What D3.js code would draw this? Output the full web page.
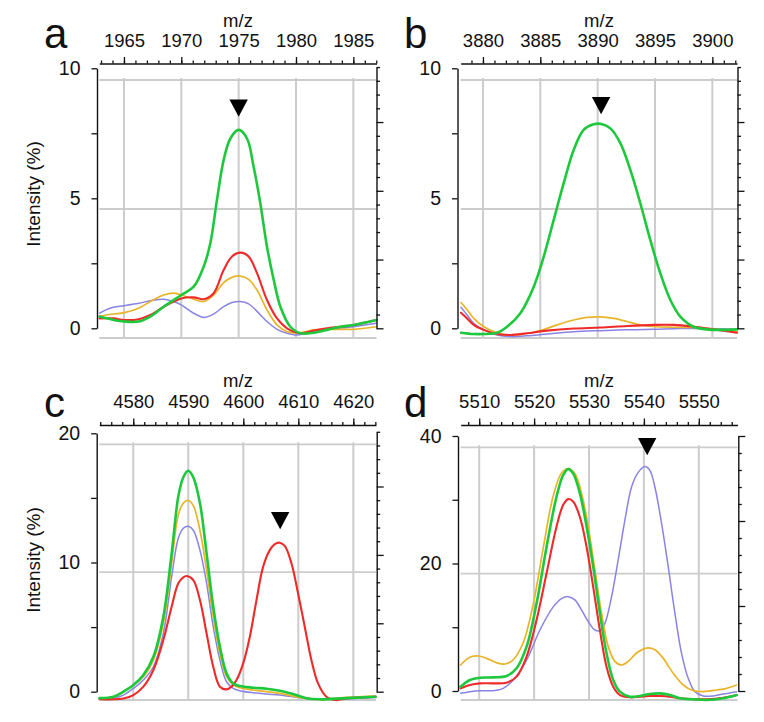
<!DOCTYPE html>
<html><head><meta charset="utf-8">
<script src="https://cdn.jsdelivr.net/npm/d3@7"></script>
<style>
html,body{margin:0;padding:0;background:#fff;}
svg{display:block;}
text{font-family:"Liberation Sans",Arial,sans-serif;fill:#111;}
</style></head><body>
<svg id="chart" width="764" height="722"></svg>
<script>
// ---------------- DATA ----------------
const panelLetters = ["a", "b", "c", "d"];
const seriesNames = ["blue", "orange", "red", "green"];

// x (m/z) axis
const aXDomain = [1962.85, 1987.02], aXTicks = [1965, 1970, 1975, 1980, 1985];
const bXDomain = [3878.06, 3902.15], bXTicks = [3880, 3885, 3890, 3895, 3900];
const cXDomain = [4573.83, 4624.12], cXTicks = [4580, 4590, 4600, 4610, 4620];
const dXDomain = [5506.63, 5557.05], dXTicks = [5510, 5520, 5530, 5540, 5550];
const xMinorStep = [1, 1, 2, 2];

// intensity axis
const aYDomain = [0, 10], aYTicks = [0, 5, 10];
const bYDomain = [0, 10], bYTicks = [0, 5, 10];
const cYDomain = [0, 20], cYTicks = [0, 10, 20];
const dYDomain = [0, 40], dYTicks = [0, 20, 40];
const yMinorStep = [2.5, 2.5, 5, 10];

// secondary (right) axis tick counts
const rightMax = [19, 19, 19, 15];
const rightMajorStep = 5;

// arrow markers (m/z, intensity at tip)
const arrowMz = [1975.0, 3890.3, 4606.7, 5540.6];
const arrowVal = [8.14, 8.23, 12.57, 37.0];

// ----- panel a -----
const aGreen = [[1962.88,0.45],[1964.1,0.32],[1965.03,0.26],[1966.28,0.26],[1967.3,0.45],[1968.46,0.83],[1970.0,1.28],[1971.08,1.6],[1971.95,2.37],[1972.53,3.27],[1973.11,4.94],[1973.69,6.47],[1974.28,7.3],[1975.0,7.63],[1975.73,7.3],[1976.31,6.2],[1976.89,4.81],[1977.47,3.14],[1978.06,1.86],[1978.64,0.83],[1979.51,0.06],[1980.38,-0.19],[1981.54,-0.17],[1982.71,-0.06],[1983.87,0.06],[1985.03,0.13],[1987.01,0.32]];
const aRed = [[1962.88,0.38],[1964.1,0.38],[1965.03,0.32],[1966.28,0.35],[1967.3,0.51],[1968.46,0.83],[1970.0,1.15],[1971.08,1.19],[1971.95,1.12],[1972.82,1.35],[1973.69,2.24],[1974.42,2.76],[1975.15,2.91],[1975.87,2.76],[1976.6,2.12],[1977.47,1.09],[1978.35,0.38],[1979.22,0.0],[1980.38,-0.19],[1981.54,-0.09],[1982.71,0.0],[1983.87,0.06],[1985.03,0.13],[1987.01,0.32]];
const aOrange = [[1962.88,0.47],[1964.1,0.55],[1965.03,0.6],[1966.28,0.77],[1967.3,1.03],[1968.46,1.28],[1969.33,1.35],[1970.0,1.28],[1971.08,1.12],[1971.95,1.03],[1972.82,1.28],[1973.69,1.76],[1974.42,1.96],[1975.15,2.01],[1975.87,1.88],[1976.6,1.47],[1977.47,0.71],[1978.35,0.13],[1979.22,-0.13],[1980.38,-0.17],[1981.54,-0.06],[1982.71,-0.04],[1983.87,-0.04],[1985.03,-0.04],[1987.01,0.06]];
const aBlue = [[1962.88,0.58],[1963.52,0.73],[1964.1,0.81],[1965.03,0.87],[1966.28,0.96],[1967.3,1.06],[1968.46,1.12],[1969.33,1.03],[1970.0,0.9],[1971.08,0.58],[1971.95,0.42],[1972.82,0.55],[1973.69,0.83],[1974.42,0.99],[1975.15,1.03],[1975.87,0.94],[1976.6,0.65],[1977.47,0.26],[1978.35,-0.04],[1979.22,-0.19],[1980.09,-0.26],[1980.96,-0.17],[1982.71,-0.04],[1985.03,0.06],[1987.01,0.19]];

// ----- panel b -----
const bGreen = [[3878.09,-0.17],[3879.2,-0.22],[3880.07,-0.22],[3881.23,-0.17],[3882.1,0.06],[3883.26,0.58],[3884.43,1.6],[3885.3,2.76],[3886.17,4.17],[3887.04,5.58],[3887.91,6.86],[3888.78,7.63],[3889.65,7.85],[3890.32,7.86],[3891.11,7.69],[3891.98,7.12],[3892.85,6.09],[3893.72,4.81],[3894.59,3.4],[3895.46,2.12],[3896.34,1.09],[3897.21,0.45],[3898.37,0.06],[3899.53,-0.04],[3900.69,-0.06],[3902.15,-0.04]];
const bRed = [[3878.09,0.6],[3878.62,0.38],[3879.2,0.13],[3880.07,-0.06],[3881.23,-0.22],[3882.39,-0.26],[3883.84,-0.19],[3885.59,-0.09],[3887.91,-0.01],[3890.24,0.03],[3892.56,0.09],[3894.88,0.13],[3896.63,0.13],[3898.37,0.06],[3900.11,-0.04],[3902.15,-0.17]];
const bOrange = [[3878.09,0.99],[3878.62,0.71],[3879.2,0.38],[3880.07,0.06],[3881.23,-0.17],[3882.39,-0.26],[3883.55,-0.22],[3885.01,-0.09],[3886.46,0.13],[3887.91,0.32],[3889.07,0.42],[3890.24,0.44],[3891.4,0.38],[3892.56,0.26],[3893.72,0.13],[3895.17,0.06],[3896.63,0.04],[3898.08,0.03],[3899.53,0.0],[3900.98,-0.06],[3902.15,-0.13]];
const bBlue = [[3878.09,0.81],[3878.62,0.51],[3879.2,0.19],[3880.07,-0.06],[3881.23,-0.26],[3882.39,-0.32],[3883.84,-0.29],[3885.59,-0.22],[3887.91,-0.13],[3890.24,-0.09],[3892.56,-0.06],[3894.88,-0.04],[3897.21,-0.01],[3899.53,-0.01],[3902.15,-0.04]];

// ----- panel c -----
const cGreen = [[4573.86,-0.5],[4576.4,-0.39],[4578.21,0.0],[4580.03,0.51],[4581.84,1.29],[4583.66,2.71],[4585.47,5.81],[4586.98,10.7],[4588.19,15.1],[4589.1,16.6],[4590.0,17.1],[4590.91,16.6],[4592.12,14.6],[4593.33,10.7],[4594.54,6.58],[4595.75,3.48],[4596.96,1.42],[4598.17,0.64],[4599.38,0.44],[4601.8,0.31],[4604.22,0.23],[4606.63,0.08],[4609.05,-0.18],[4611.47,-0.5],[4613.89,-0.59],[4618.73,-0.5],[4624.05,-0.39]];
const cRed = [[4573.86,-0.59],[4576.4,-0.59],[4578.21,-0.52],[4580.03,-0.26],[4581.84,0.39],[4583.66,1.68],[4585.47,4.0],[4586.98,6.58],[4588.19,8.39],[4589.1,8.85],[4589.7,8.95],[4590.91,8.64],[4592.12,7.09],[4593.33,4.51],[4594.54,1.93],[4595.75,0.39],[4596.96,0.18],[4597.87,0.39],[4598.77,0.9],[4599.98,2.19],[4601.19,4.26],[4602.4,7.09],[4603.61,9.68],[4604.82,10.96],[4605.73,11.43],[4606.63,11.53],[4607.54,11.28],[4608.75,9.94],[4609.96,7.6],[4611.17,5.03],[4612.38,2.45],[4613.59,0.64],[4615.1,-0.39],[4616.92,-0.65],[4618.73,-0.52],[4624.05,-0.39]];
const cOrange = [[4573.86,-0.51],[4576.4,-0.44],[4578.21,0.0],[4580.03,0.51],[4581.84,1.16],[4583.66,2.45],[4585.47,5.29],[4586.98,9.94],[4588.19,13.7],[4589.1,14.6],[4590.0,14.8],[4590.91,14.4],[4592.12,12.5],[4593.33,9.4],[4594.54,5.81],[4595.75,2.97],[4596.96,1.16],[4598.17,0.52],[4599.38,0.31],[4601.8,0.13],[4604.22,0.0],[4606.63,-0.13],[4609.05,-0.34],[4611.47,-0.52],[4613.89,-0.59],[4618.73,-0.44],[4624.05,-0.34]];
const cBlue = [[4573.86,-0.59],[4576.4,-0.51],[4578.21,-0.26],[4580.03,0.26],[4581.84,0.9],[4583.66,1.93],[4585.47,4.51],[4586.98,8.9],[4588.19,11.87],[4589.1,12.65],[4590.0,12.8],[4590.91,12.5],[4592.12,10.96],[4593.33,8.39],[4594.54,5.03],[4595.75,2.45],[4596.96,0.77],[4598.17,0.26],[4599.38,0.08],[4601.8,-0.08],[4604.22,-0.18],[4606.63,-0.26],[4609.05,-0.39],[4611.47,-0.52],[4613.89,-0.59],[4624.05,-0.44]];

// ----- panel d -----
const dGreen = [[5506.61,0.68],[5508.31,1.73],[5510.13,2.09],[5512.56,2.14],[5514.99,2.35],[5516.81,3.56],[5518.63,6.95],[5520.45,13.75],[5522.27,22.6],[5524.09,30.5],[5525.31,33.9],[5526.22,34.8],[5527.13,34.1],[5528.34,31.0],[5529.56,25.8],[5530.77,19.5],[5531.99,12.2],[5533.2,5.9],[5534.41,1.73],[5535.63,-0.1],[5537.45,-0.89],[5539.27,-0.78],[5541.09,-0.47],[5542.91,-0.37],[5544.74,-0.63],[5546.56,-1.15],[5548.99,-1.3],[5551.42,-1.41],[5554.45,-1.15],[5556.88,-0.63]];
const dRed = [[5506.61,0.42],[5508.31,0.94],[5510.13,1.2],[5512.56,1.2],[5514.99,1.31],[5516.81,2.25],[5518.63,5.39],[5520.45,11.14],[5522.27,18.46],[5524.09,25.8],[5525.31,29.2],[5526.22,30.1],[5527.13,29.7],[5528.34,27.3],[5529.56,22.6],[5530.77,16.3],[5531.99,9.5],[5533.2,3.77],[5534.41,0.68],[5535.63,-0.63],[5537.45,-0.99],[5539.27,-0.89],[5541.09,-0.78],[5542.91,-0.78],[5544.74,-0.89],[5546.56,-1.15],[5548.99,-1.3],[5551.42,-1.3],[5554.45,-1.05],[5556.88,-0.63]];
const dOrange = [[5506.61,4.08],[5508.31,5.28],[5509.82,5.49],[5511.34,5.12],[5513.16,4.44],[5514.68,4.24],[5516.2,4.9],[5518.02,7.6],[5519.84,13.6],[5521.66,22.4],[5523.48,30.6],[5525.0,34.2],[5526.22,34.9],[5527.43,34.1],[5528.65,31.0],[5529.86,25.8],[5531.07,19.0],[5532.29,12.2],[5533.5,7.0],[5534.72,4.65],[5535.93,4.08],[5537.15,4.65],[5538.66,5.96],[5540.49,6.74],[5542.0,6.48],[5543.52,5.12],[5545.34,2.77],[5547.16,0.94],[5548.99,0.05],[5550.81,-0.1],[5553.24,0.16],[5555.06,0.42],[5556.88,0.94]];
const dBlue = [[5506.61,-0.37],[5508.31,-0.1],[5510.13,0.05],[5512.56,0.05],[5514.38,0.42],[5516.2,1.73],[5518.63,4.86],[5521.06,9.57],[5523.48,13.2],[5525.0,14.5],[5526.22,14.8],[5527.43,14.3],[5528.65,12.7],[5529.86,10.9],[5531.07,9.57],[5531.99,9.46],[5532.9,10.6],[5534.11,14.8],[5535.32,20.6],[5536.54,26.8],[5537.75,32.0],[5538.97,34.3],[5540.2,35.2],[5541.09,34.6],[5542.0,32.0],[5543.22,26.3],[5544.43,19.5],[5545.65,12.2],[5546.86,5.9],[5548.07,1.99],[5549.29,-0.1],[5550.81,-0.78],[5552.63,-0.78],[5554.45,-0.47],[5556.88,-0.1]];

// ---------------- STYLE / LAYOUT ----------------
const colors = {blue:"#8884e4", orange:"#e8b42a", red:"#ee2a2a", green:"#1ec83c"};
const widths = {blue:1.5, orange:1.7, red:2.1, green:2.6};

const layouts = [
  {x0:99.3, x1:376.5, topY:63.5, leftX:97,   rightX:376.5, y0:328.3, y1:68.3,  gy0:338, gy1:80,    rUnit:13.75, lx:44,  ly:48,  mzX:238, mzY:27,  ylab:true, ylabY:194},
  {x0:460.7,x1:737,   topY:63.5, leftX:457.5,rightX:737.5, y0:328.3, y1:68.3,  gy0:338, gy1:80,    rUnit:13.75, lx:404, ly:48,  mzX:599, mzY:27,  ylab:false},
  {x0:99.3, x1:376,   topY:425,  leftX:96.7, rightX:376.7, y0:691.7, y1:433.3, gy0:700, gy1:444.3, rUnit:13.68, lx:44,  ly:417, mzX:238, mzY:387, ylab:true, ylabY:560},
  {x0:460.7,x1:737.5, topY:425,  leftX:458,  rightX:738.3, y0:691,   y1:436,   gy0:700, gy1:447.3, rUnit:17,    lx:404, ly:417, mzX:599, mzY:387, ylab:false}
];

const xDomains = [aXDomain, bXDomain, cXDomain, dXDomain];
const xTicks = [aXTicks, bXTicks, cXTicks, dXTicks];
const yDomains = [aYDomain, bYDomain, cYDomain, dYDomain];
const yTicks = [aYTicks, bYTicks, cYTicks, dYTicks];
const seriesData = [
  {blue:aBlue, orange:aOrange, red:aRed, green:aGreen},
  {blue:bBlue, orange:bOrange, red:bRed, green:bGreen},
  {blue:cBlue, orange:cOrange, red:cRed, green:cGreen},
  {blue:dBlue, orange:dOrange, red:dRed, green:dGreen}
];

const svg = d3.select("#chart");
const font = '"Liberation Sans", Arial, sans-serif';

function range(a, b, step) {
  const out = [];
  const n = Math.round((b - a) / step);
  for (let i = 0; i <= n; i++) out.push(+(a + i * step).toFixed(6));
  return out;
}

layouts.forEach((L, i) => {
  const g = svg.append("g");
  const x = d3.scaleLinear().domain(xDomains[i]).range([L.x0, L.x1]);
  const y = d3.scaleLinear().domain(yDomains[i]).range([L.y0, L.y1]);
  const yGrid = d3.scaleLinear().domain(yDomains[i]).range([L.gy0, L.gy1]);

  // grid
  const grid = g.append("g");
  grid.selectAll("line.h").data(yTicks[i]).join("line")
    .attr("x1", L.x0).attr("x2", L.x1)
    .attr("y1", d => yGrid(d)).attr("y2", d => yGrid(d))
    .attr("stroke", "#cccccc").attr("stroke-width", 1.8);
  grid.selectAll("line.v").data(xTicks[i]).join("line")
    .attr("x1", d => x(d)).attr("x2", d => x(d))
    .attr("y1", L.gy1 - 2).attr("y2", L.gy0)
    .attr("stroke", "#cccccc").attr("stroke-width", 2);

  // curves
  const line = d3.line().x(d => x(d[0])).y(d => y(d[1])).curve(d3.curveCatmullRom.alpha(0.5));
  seriesNames.forEach(s => {
    g.append("path").datum(seriesData[i][s])
      .attr("d", line).attr("fill", "none")
      .attr("stroke", colors[s]).attr("stroke-width", widths[s])
      .attr("stroke-linejoin", "round").attr("stroke-linecap", "round");
  });

  // top axis: minor + major
  const xd = xDomains[i];
  const minorX = range(Math.ceil(xd[0] / xMinorStep[i]) * xMinorStep[i], Math.floor(xd[1] / xMinorStep[i]) * xMinorStep[i], xMinorStep[i]);
  const topMinor = g.append("g").attr("transform", `translate(0,${L.topY})`)
    .call(d3.axisTop(x).tickValues(minorX).tickSize(3).tickSizeOuter(0).tickFormat(""));
  const topMajor = g.append("g").attr("transform", `translate(0,${L.topY})`)
    .call(d3.axisTop(x).tickValues(xTicks[i]).tickSize(6.5).tickSizeOuter(0).tickPadding(10.5).tickFormat(d3.format("d")));
  topMajor.select(".domain").remove();
  topMajor.selectAll("text").attr("font-size", 18.5).attr("font-family", font).attr("fill", "#111");
  [topMinor, topMajor].forEach(a => a.selectAll("line").attr("stroke", "#111").attr("stroke-width", 1.3));
  topMinor.select(".domain").attr("stroke", "#111").attr("stroke-width", 1.6);

  // left axis
  const yd = yDomains[i];
  const leftVals = range(yd[0], yd[1], yMinorStep[i]);
  const left = g.append("g").attr("transform", `translate(${L.leftX},0)`)
    .call(d3.axisLeft(y).tickValues(leftVals).tickSize(5.5).tickSizeOuter(0).tickPadding(11)
      .tickFormat(d => yTicks[i].includes(d) ? d3.format("d")(d) : ""));
  left.selectAll("text").attr("font-size", 19.5).attr("font-family", font).attr("fill", "#111");
  left.selectAll("line").attr("stroke", "#111").attr("stroke-width", 1.3);
  left.select(".domain").attr("stroke", "#111").attr("stroke-width", 1.4);

  // right axis (secondary scale, unlabeled)
  const r = d3.scaleLinear().domain([0, rightMax[i]]).range([L.y0, L.y0 - rightMax[i] * L.rUnit]);
  const rAll = d3.range(0, rightMax[i] + 1);
  const rMinor = g.append("g").attr("transform", `translate(${L.rightX},0)`)
    .call(d3.axisRight(r).tickValues(rAll.filter(v => v % rightMajorStep !== 0)).tickSize(3.5).tickSizeOuter(0).tickFormat(""));
  const rMajor = g.append("g").attr("transform", `translate(${L.rightX},0)`)
    .call(d3.axisRight(r).tickValues(rAll.filter(v => v % rightMajorStep === 0)).tickSize(7).tickSizeOuter(0).tickFormat(""));
  rMajor.select(".domain").remove();
  [rMinor, rMajor].forEach(a => a.selectAll("line").attr("stroke", "#111").attr("stroke-width", 1.3));
  rMinor.select(".domain").attr("stroke", "#111").attr("stroke-width", 1.4);

  // arrow marker
  const ax = x(arrowMz[i]), ay = y(arrowVal[i]);
  g.append("path")
    .attr("d", `M${ax},${ay}L${ax - 9.2},${ay - 17.2}L${ax + 9.2},${ay - 17.2}Z`)
    .attr("fill", "#000");

  // labels
  g.append("text").attr("x", L.mzX).attr("y", L.mzY).attr("text-anchor", "middle")
    .attr("font-size", 18.5).attr("font-family", font).text("m/z");
  g.append("text").attr("x", L.lx).attr("y", L.ly).attr("font-size", 42)
    .attr("font-family", font).text(panelLetters[i]);
  if (L.ylab) {
    g.append("text").attr("transform", `translate(${33 + 6.5},${L.ylabY}) rotate(-90)`)
      .attr("text-anchor", "middle").attr("font-size", 19).attr("font-family", font)
      .text("Intensity (%)");
  }
});
</script>
</body></html>
